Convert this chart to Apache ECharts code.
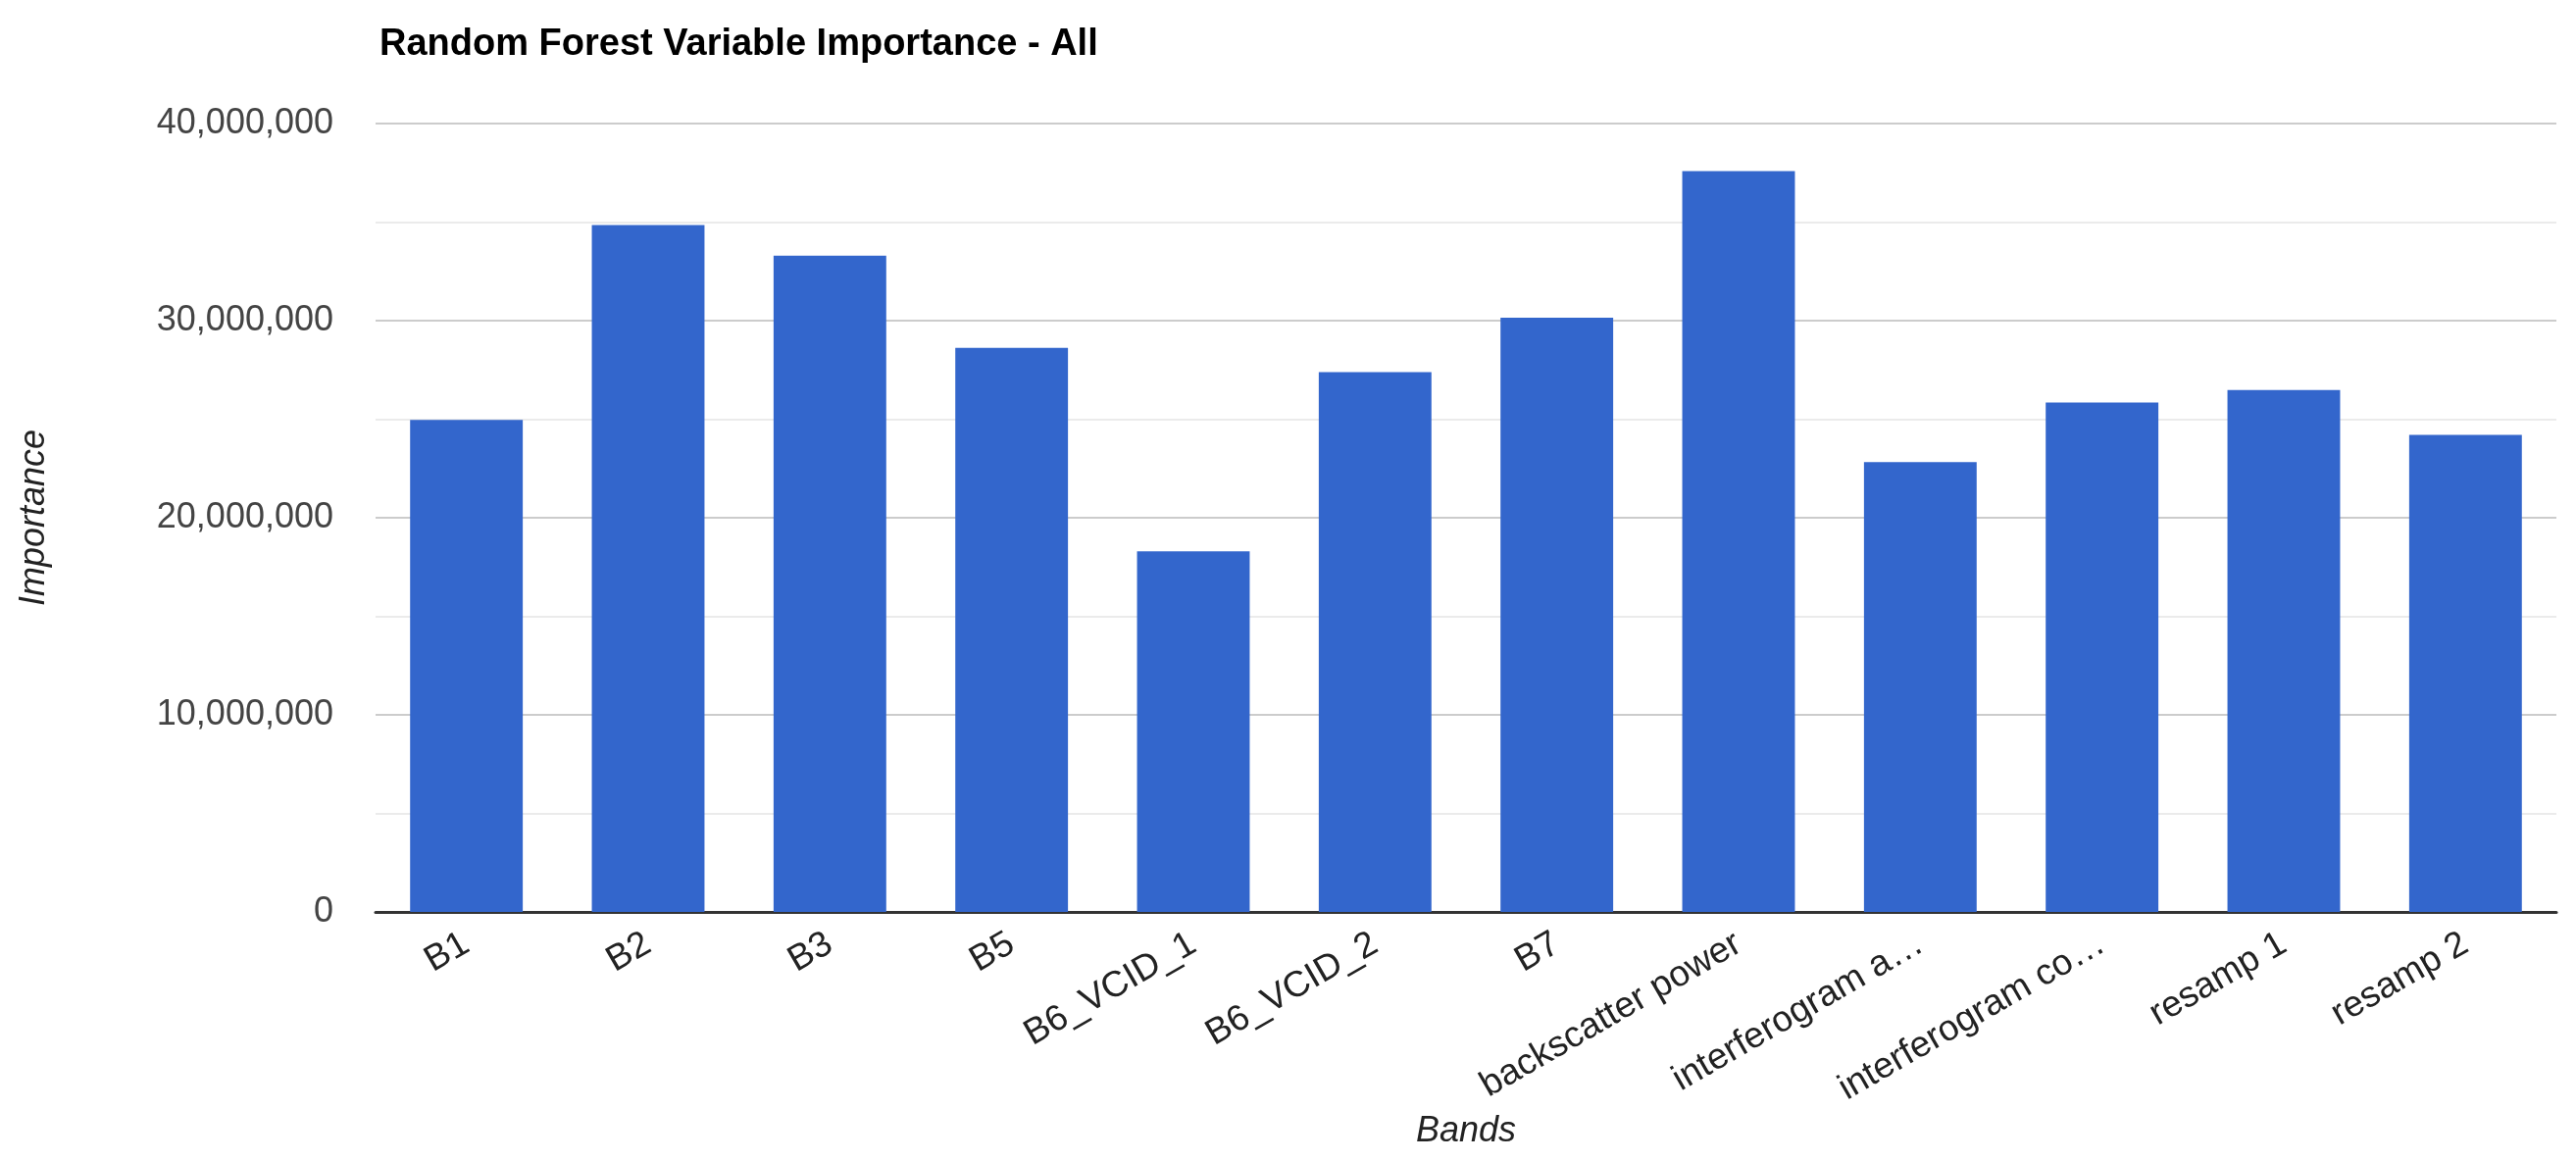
<!DOCTYPE html>
<html>
<head>
<meta charset="utf-8">
<script src="https://cdn.jsdelivr.net/npm/echarts@6/dist/echarts.min.js"></script>
<style>
html,body{margin:0;padding:0;background:#fff;}
#chart{width:2627px;height:1184px;}
</style>
</head>
<body>
<div id="chart"></div>
<script>
const titleText = "Random Forest Variable Importance - All";
const categories = ["B1", "B2", "B3", "B5", "B6_VCID_1", "B6_VCID_2", "B7", "backscatter power", "interferogram a…", "interferogram co…", "resamp 1", "resamp 2"];
const importance = [24960000, 34850000, 33300000, 28620000, 18290000, 27390000, 30150000, 37590000, 22820000, 25850000, 26480000, 24200000];
const yTicks = { min: 0, max: 40000000, interval: 10000000 };
const xAxisTitle = "Bands";
const yAxisTitle = "Importance";

const FONT = "Arial, 'Liberation Sans', sans-serif";
const chart = echarts.init(document.getElementById('chart'), null, { renderer: 'canvas' });
chart.setOption({
  animation: false,
  backgroundColor: '#ffffff',
  title: {
    text: titleText,
    left: 382,
    top: 22,
    textStyle: { fontFamily: FONT, fontSize: 38, fontWeight: 'bold', color: '#000000' }
  },
  grid: { left: 383, right: 20, top: 126, bottom: 254, containLabel: false },
  xAxis: {
    type: 'category',
    data: categories,
    name: xAxisTitle,
    nameLocation: 'middle',
    nameGap: 204,
    nameTextStyle: { fontFamily: FONT, fontSize: 36, fontStyle: 'italic', color: '#222222' },
    axisLine: { show: true, lineStyle: { color: '#333333', width: 3 } },
    axisTick: { show: false },
    axisLabel: { interval: 0, rotate: 30, margin: 30, fontFamily: FONT, fontSize: 37, color: '#222222' },
    splitLine: { show: false }
  },
  yAxis: {
    type: 'value',
    min: yTicks.min,
    max: yTicks.max,
    interval: yTicks.interval,
    name: yAxisTitle,
    nameLocation: 'middle',
    nameGap: 330,
    nameRotate: 90,
    nameTextStyle: { fontFamily: FONT, fontSize: 36, fontStyle: 'italic', color: '#222222' },
    axisLine: { show: false },
    axisTick: { show: false },
    axisLabel: {
      margin: 43, fontFamily: FONT, fontSize: 36, color: '#444444',
      formatter: v => v.toLocaleString('en-US')
    },
    splitLine: { show: true, lineStyle: { color: '#cccccc', width: 2 } },
    minorTick: { show: false, splitNumber: 2 },
    minorSplitLine: { show: true, lineStyle: { color: '#ebebeb', width: 2 } }
  },
  series: [{
    type: 'bar',
    data: importance,
    barCategoryGap: '38%',
    itemStyle: { color: '#3366cc' }
  }]
});
</script>
</body>
</html>
